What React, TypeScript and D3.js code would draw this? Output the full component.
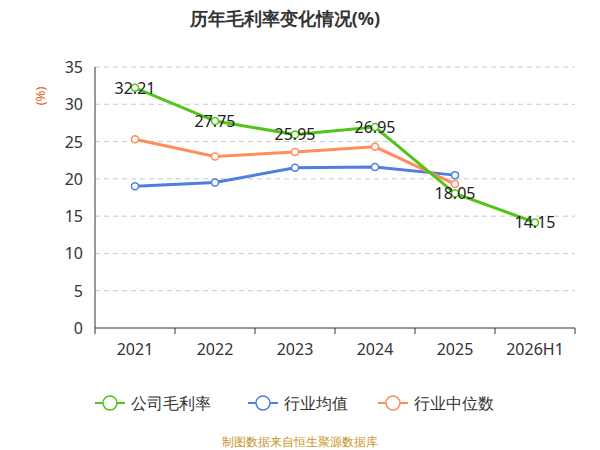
import React from 'react';
import * as d3 from 'd3';

const categories = ['2021', '2022', '2023', '2024', '2025', '2026H1'];
const companyValues = [32.21, 27.75, 25.95, 26.95, 18.05, 14.15];
const industryAvg = [19.0, 19.5, 21.5, 21.6, 20.5];
const industryMedian = [25.3, 23.0, 23.6, 24.3, 19.3];
const yTicks = [0, 5, 10, 15, 20, 25, 30, 35];

const W = 600, H = 450;
const left = 95, right = 575, top = 67, bottom = 328;

export default function App() {
  const x = d3.scaleBand<string>().domain(categories).range([left, right]);
  const y = d3.scaleLinear().domain([0, 35]).range([bottom, top]);
  const cx = (i: number) => (x(categories[i]) as number) + x.bandwidth() / 2;
  const line = d3.line<number>().x((_, i) => cx(i)).y(d => y(d));
  const font = '"Noto Sans", sans-serif';

  const series = [
    { name: '公司毛利率', values: companyValues, color: '#52c41a' },
    { name: '行业均值', values: industryAvg, color: '#4e7fe0' },
    { name: '行业中位数', values: industryMedian, color: '#ff8c5a' },
  ];
  const drawOrder = [series[1], series[2], series[0]];
  const legendX = [95, 248, 378];

  return (
    <svg width={W} height={H} style={{ position: 'absolute', left: 0, top: 0 }} fontFamily={font}>
      <text x={W / 2 - 15} y={25} textAnchor="middle" fontSize={18} fontWeight="bold" fill="#333">历年毛利率变化情况(%)</text>
      <text x={45} y={96} fontSize={13} fill="#e05a1a" transform="rotate(-90 45 96)" textAnchor="middle">(%)</text>
      {yTicks.map(t => (
        <g key={t}>
          {t > 0 && <line x1={left} x2={right} y1={y(t)} y2={y(t)} stroke="#c8c8c8" strokeDasharray="5,4" />}
          <text x={left - 12} y={y(t) + 6} textAnchor="end" fontSize={16} fill="#333">{t}</text>
        </g>
      ))}
      <line x1={left} x2={left} y1={top} y2={bottom} stroke="#333" />
      <line x1={left} x2={right} y1={bottom} y2={bottom} stroke="#333" />
      {categories.map((c, i) => (
        <g key={c}>
          <line x1={(x(c) as number)} x2={(x(c) as number)} y1={bottom} y2={bottom + 6} stroke="#333" />
          <text x={cx(i)} y={bottom + 27} textAnchor="middle" fontSize={16} fill="#333">{c}</text>
        </g>
      ))}
      <line x1={right} x2={right} y1={bottom} y2={bottom + 6} stroke="#333" />
      {drawOrder.map(s => (
        <g key={s.name}>
          <path d={line(s.values) || ''} fill="none" stroke={s.color} strokeWidth={3} />
          {s.values.map((v, i) => (
            <circle key={i} cx={cx(i)} cy={y(v)} r={3.5} fill="#fff" stroke={s.color} strokeWidth={1.5} />
          ))}
        </g>
      ))}
      {companyValues.map((v, i) => (
        <text key={i} x={cx(i)} y={y(v) + 6} textAnchor="middle" fontSize={16} fill="#222">{v.toFixed(2)}</text>
      ))}
      {series.map((s, i) => (
        <g key={s.name}>
          <line x1={legendX[i]} x2={legendX[i] + 30} y1={403} y2={403} stroke={s.color} strokeWidth={2} />
          <circle cx={legendX[i] + 15} cy={403} r={7} fill="#fff" stroke={s.color} strokeWidth={1.5} />
          <text x={legendX[i] + 36} y={409} fontSize={16} fill="#333">{s.name}</text>
        </g>
      ))}
      <text x={W / 2} y={446} textAnchor="middle" fontSize={12} fill="#c8952a">制图数据来自恒生聚源数据库</text>
    </svg>
  );
}
